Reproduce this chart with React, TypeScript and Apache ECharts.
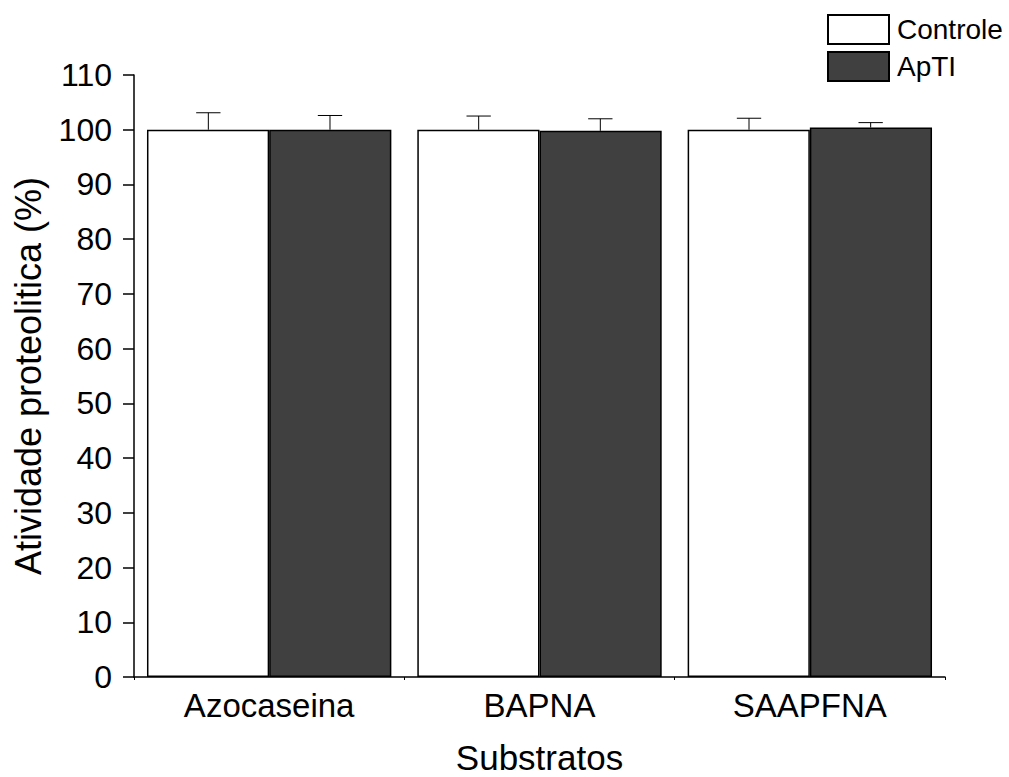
import React, { useEffect, useRef } from "react";
import * as echarts from "echarts";

const categories = ["Azocaseina", "BAPNA", "SAAPFNA"];
const controleValues = [100, 100, 100];
const controleErrors = [3.1, 2.5, 2.1];
const aptiValues = [100.0, 99.8, 100.4];
const aptiErrors = [2.6, 2.2, 0.9];
const yTicks = { min: 0, max: 110, interval: 10 };

const FONT = "Liberation Sans, Arial, sans-serif";

function errorSeries(name: string, values: number[], errors: number[], sign: number) {
  return {
    type: "custom",
    name: name + "-err",
    z: 5,
    data: values.map((v, i) => [i, v, errors[i]]),
    encode: { x: 0, y: 1 },
    renderItem: (params: any, api: any) => {
      const idx = api.value(0);
      const v = api.value(1);
      const e = api.value(2);
      const band = api.size([1, 0])[0];
      const base = api.coord([idx, v]);
      const top = api.coord([idx, v + e]);
      const x = base[0] + sign * band * 0.225;
      const cap = band * 0.045;
      return {
        type: "group",
        children: [
          { type: "line", shape: { x1: x, y1: base[1], x2: x, y2: top[1] }, style: { stroke: "#000", lineWidth: 1 } },
          { type: "line", shape: { x1: x - cap, y1: top[1], x2: x + cap, y2: top[1] }, style: { stroke: "#000", lineWidth: 1 } },
        ],
      };
    },
  };
}

export default function App() {
  const ref = useRef<HTMLDivElement>(null);
  useEffect(() => {
    if (!ref.current) return;
    const chart = echarts.init(ref.current, null, { renderer: "svg" });
    chart.setOption({
      animation: false,
      backgroundColor: "#fff",
      textStyle: { fontFamily: FONT, color: "#000" },
      grid: { left: 134, right: 64, top: 75, bottom: 100, containLabel: false, outerBoundsMode: "none" },
      legend: {
        data: ["Controle", "ApTI"],
        orient: "vertical",
        left: 827,
        top: 14,
        padding: 0,
        itemWidth: 61,
        itemHeight: 29,
        itemGap: 6,
        icon: "rect",
        textStyle: { fontSize: 28, color: "#000", fontFamily: FONT, padding: [0, 0, 0, 3] },
      },
      xAxis: {
        type: "category",
        data: categories,
        name: "Substratos",
        nameLocation: "middle",
        nameGap: 63,
        nameTextStyle: { fontSize: 35, color: "#000", fontFamily: FONT },
        axisLine: { lineStyle: { color: "#000", width: 1.5 } },
        axisTick: { show: true, length: 3, lineStyle: { color: "#000" } },
        axisLabel: { fontSize: 33, color: "#000", margin: 12, fontFamily: FONT },
      },
      yAxis: {
        type: "value",
        min: yTicks.min,
        max: yTicks.max,
        interval: yTicks.interval,
        name: "Atividade proteolitica (%)",
        nameLocation: "middle",
        nameGap: 88,
        nameTextStyle: { fontSize: 36, color: "#000", fontFamily: FONT },
        axisLine: { show: true, lineStyle: { color: "#000", width: 1.5 } },
        axisTick: { show: true, length: 11, lineStyle: { color: "#000", width: 1.5 } },
        axisLabel: { fontSize: 32, color: "#000", margin: 22, fontFamily: FONT },
        splitLine: { show: false },
      },
      series: [
        {
          name: "Controle",
          type: "bar",
          data: controleValues,
          barGap: "0%",
          barCategoryGap: "9.6%",
          itemStyle: { color: "#ffffff", borderColor: "#000", borderWidth: 1.5 },
        },
        {
          name: "ApTI",
          type: "bar",
          data: aptiValues,
          barGap: "0%",
          barCategoryGap: "9.6%",
          itemStyle: { color: "#404040", borderColor: "#000", borderWidth: 1.5 },
        },
        errorSeries("Controle", controleValues, controleErrors, -1),
        errorSeries("ApTI", aptiValues, aptiErrors, 1),
      ],
    });
    return () => chart.dispose();
  }, []);
  return <div ref={ref} style={{ width: 1009, height: 777, position: "absolute", left: 0, top: 0 }} />;
}
